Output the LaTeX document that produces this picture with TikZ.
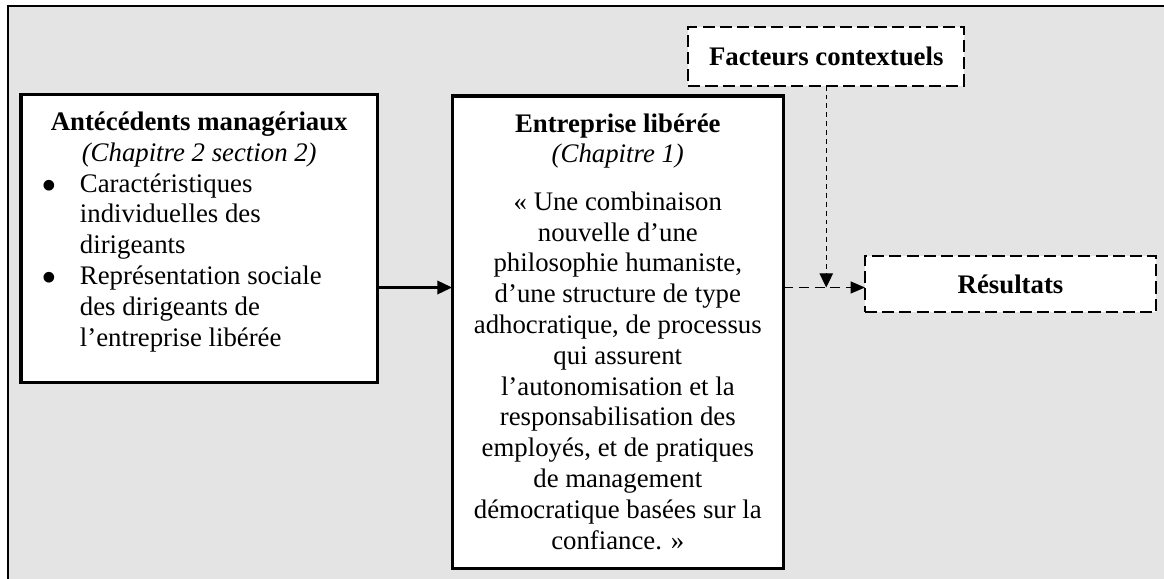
\documentclass[tikz,border=0pt]{standalone}
\usepackage{fontspec}
\setmainfont{Liberation Serif}
\usetikzlibrary{arrows.meta}
\definecolor{fond}{RGB}{228,228,228}
\newcommand{\puce}[1]{\par\noindent\hangindent=22.4pt\hangafter=1
  \makebox[22.4pt][l]{\hspace{5.4pt}\raisebox{-3.6pt}{\scalebox{1.67}{\textbullet}}}#1\par}

\begin{document}
\begin{tikzpicture}[x=0.448pt,y=-0.448pt,
    font=\fontsize{12}{13.8}\selectfont,
    bloc/.style={draw,line width=1.5pt,fill=white,inner xsep=4pt,inner ysep=7.8pt,
                 outer sep=0pt,anchor=north west},
    pointille/.style={draw,line width=1pt,fill=white,dash pattern=on 5.4pt off 2.3pt,
                 inner sep=0pt,outer sep=0pt,anchor=north west,
                 font=\fontsize{12}{13.8}\selectfont\bfseries}]
  \useasboundingbox (0,0) rectangle (1164,579);
  \fill[fond] (8.2,6.2) rectangle (1164,579);
  \draw[line width=1.1pt] (8.2,579) -- (8.2,6.2) -- (1164,6.2);

  \node[bloc] (antecedents) at (21,94.5) {\parbox[t][113.4pt][t]{151.7pt}{%
    {\centering\textbf{Antécédents managériaux}\\ \textit{(Chapitre 2 section 2)}\par}
    \puce{Caractéristiques\\ individuelles des\\ dirigeants}
    \puce{Représentation sociale\\ des dirigeants de\\ l’entreprise libérée}}};
  \node[bloc] (entreprise) at (452.3,96) {\parbox[t][196pt][t]{140.3pt}{\centering
    \textbf{Entreprise libérée}\\ \textit{(Chapitre 1)}\par\vspace{7.5pt}
    « Une combinaison\\ nouvelle d’une\\ philosophie humaniste,\\
    d’une structure de type\\ adhocratique, de processus\\ qui assurent\\
    l’autonomisation et la\\ responsabilisation des\\ employés, et de pratiques\\
    de management\\ démocratique basées sur la\\ confiance. »\par}};
  \node[pointille,minimum width=123.6pt,minimum height=26.4pt] (facteurs)
    at (688.3,26.7) {Facteurs contextuels};
  \node[pointille,minimum width=130.4pt,minimum height=25pt] (resultats)
    at (865,256) {Résultats};

  \coordinate (niveau) at (0,287.5);
  \draw[line width=1.5pt,-{Triangle[length=6.7pt,width=5.8pt]}]
    (antecedents.east |- niveau) -- (entreprise.west |- niveau);
  \draw[line width=0.6pt,dash pattern=on 4.5pt off 2.5pt,-{Triangle[length=6.5pt,width=5.4pt]}]
    (entreprise.east |- niveau) -- (resultats.west |- niveau);
  \draw[line width=0.5pt,dash pattern=on 2.2pt off 1.8pt,-{Triangle[length=6.3pt,width=6pt]}]
    (facteurs.south) -- (facteurs.south |- niveau);
\end{tikzpicture}
\end{document}
